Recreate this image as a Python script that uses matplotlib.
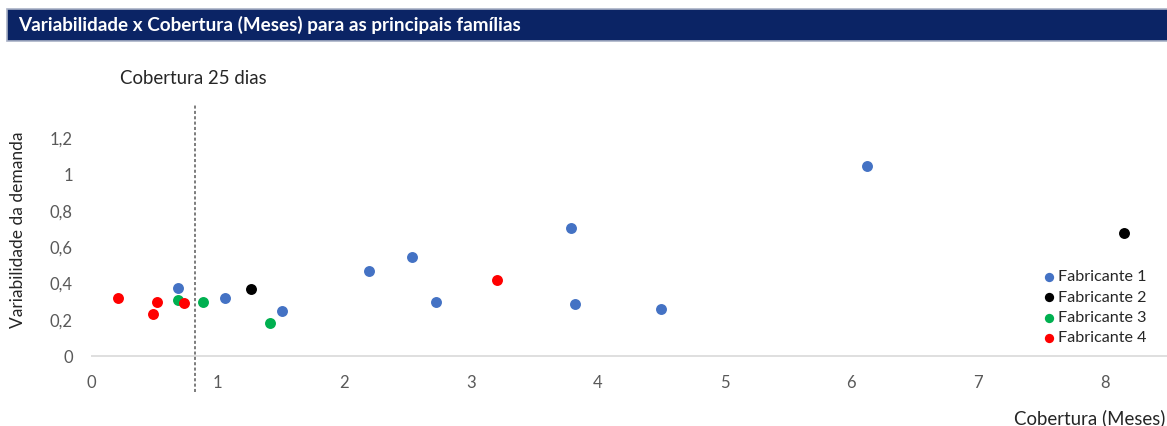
import matplotlib.pyplot as plt
from matplotlib.patches import Rectangle
from matplotlib.ticker import FuncFormatter

plt.rcParams['font.family'] = ['Lato', 'DejaVu Sans']

# dados (cobertura em meses, variabilidade)
fab1_x = [0.69, 1.06, 1.51, 2.19, 2.53, 2.72, 3.79, 3.82, 4.50, 6.12]
fab1_y = [0.375, 0.32, 0.25, 0.47, 0.545, 0.30, 0.705, 0.285, 0.26, 1.045]
fab2_x = [1.26, 8.15]
fab2_y = [0.37, 0.68]
fab3_x = [0.69, 0.88, 1.41]
fab3_y = [0.31, 0.30, 0.18]
fab4_x = [0.21, 0.49, 0.52, 0.73, 3.20]
fab4_y = [0.32, 0.23, 0.30, 0.29, 0.42]
cobertura_25 = 25 / 30.4
x_ticks = [0, 1, 2, 3, 4, 5, 6, 7, 8]
y_ticks = [0, 0.2, 0.4, 0.6, 0.8, 1.0, 1.2]

W, H = 1167, 426
fig = plt.figure(figsize=(W / 100, H / 100), dpi=100)

# faixa do titulo
fig.patches.append(Rectangle((7 / W, 1 - 41 / H), 1, 32 / H, transform=fig.transFigure,
                             facecolor='#0B2465', edgecolor='#A9B1C6', linewidth=1.2))
fig.text(18 / W, 1 - 25 / H, 'Variabilidade x Cobertura (Meses) para as principais famílias',
         color='white', fontsize=13.6, fontweight='bold', va='center', ha='left')

ax = fig.add_axes([91 / W, 1 - 374 / H, 1 - 91 / W, (374 - 105) / H])
ax.set_xlim(0, 8.49)
ax.set_ylim(-0.099, 1.383)

ms = 62
ax.scatter(fab1_x, fab1_y, s=ms, color='#4472C4', label='Fabricante 1', zorder=3, linewidths=0)
ax.scatter(fab2_x, fab2_y, s=ms, color='#000000', label='Fabricante 2', zorder=3, linewidths=0)
ax.scatter(fab3_x, fab3_y, s=ms, color='#00B050', label='Fabricante 3', zorder=3, linewidths=0)
ax.scatter(fab4_x, fab4_y, s=ms, color='#FF0000', label='Fabricante 4', zorder=3, linewidths=0)

ax.axhline(0, color='#D9D9D9', linewidth=1.2, zorder=1)
ax.plot([cobertura_25, cobertura_25], [-0.198, 1.383], color='#595959', linestyle=(0, (2, 1.5)),
        linewidth=1.1, clip_on=False, zorder=2)

for s in ax.spines.values():
    s.set_visible(False)
ax.set_xticks(x_ticks)
ax.set_yticks(y_ticks)
ax.yaxis.set_major_formatter(FuncFormatter(lambda v, p: ('%g' % v).replace('.', ',')))
ax.tick_params(axis='both', length=0, labelsize=12, labelcolor='#595959')
ax.tick_params(axis='y', pad=13)
ax.tick_params(axis='x', pad=1)

fig.text(18 / W, 1 - 230 / H, 'Variabilidade da demanda', rotation=90, fontsize=12.5,
         color='#262626', ha='center', va='center')
fig.text(1165 / W, 1 - 418 / H, 'Cobertura (Meses)', fontsize=13.4, color='#262626',
         ha='right', va='center')
fig.text(120 / W, 1 - 78 / H, 'Cobertura 25 dias', fontsize=13.4, color='#262626',
         ha='left', va='center')

leg = ax.legend(loc='upper left', bbox_to_anchor=(1044 / W, 1 - 270 / H),
                bbox_transform=fig.transFigure, frameon=False, fontsize=11.6,
                handlelength=0.6, handletextpad=0.25, labelspacing=0.38,
                scatterpoints=1, markerscale=0.85, borderaxespad=0, borderpad=0)
for t in leg.get_texts():
    t.set_color('#262626')

fig.savefig('out.png', dpi=100)
